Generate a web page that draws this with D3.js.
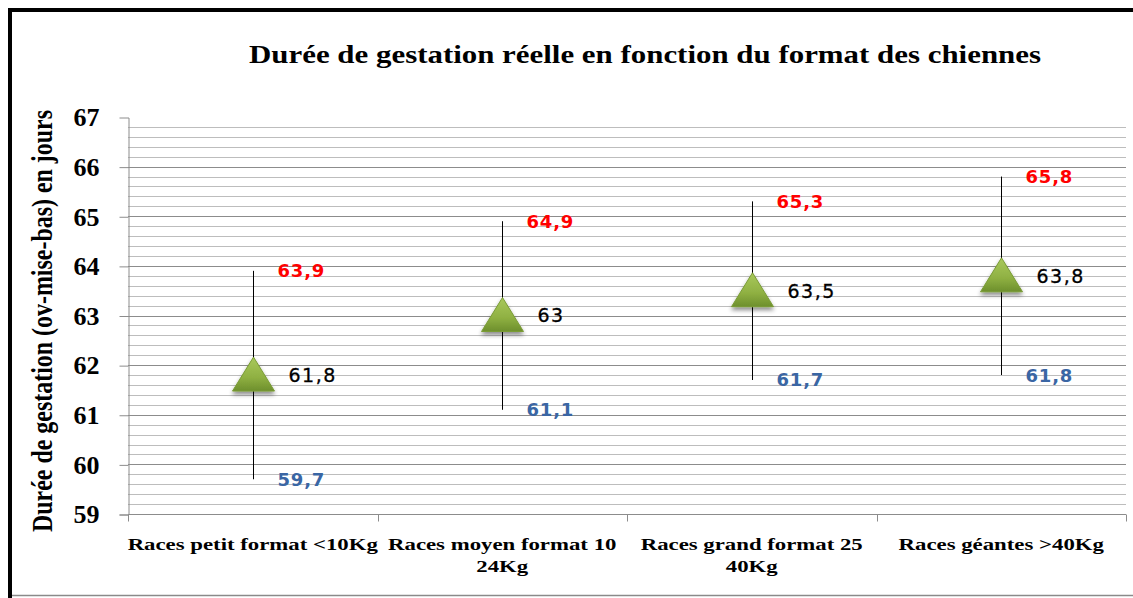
<!DOCTYPE html>
<html>
<head>
<meta charset="utf-8">
<script src="https://cdn.jsdelivr.net/npm/d3@7/dist/d3.min.js"></script>
<style>
body { margin: 0; background: #fff; }
</style>
</head>
<body>
<svg id="chart"></svg>
<script>
var categories = ["Races petit format <10Kg", "Races moyen format 10-24Kg", "Races grand format 25-40Kg", "Races géantes >40Kg"];
var moyenne = [61.8, 63, 63.5, 63.8];
var maxi = [63.9, 64.9, 65.3, 65.8];
var mini = [59.7, 61.1, 61.7, 61.8];
var yTicks = [59, 60, 61, 62, 63, 64, 65, 66, 67];
var titre = "Durée de gestation réelle en fonction du format des chiennes";
var titreY = "Durée de gestation (ov-mise-bas) en jours";

var width = 1133, height = 598;
var margin = {top: 117, left: 128, right: 7, bottom: 84};

var svg = d3.select("#chart")
    .attr("width", width)
    .attr("height", height);

var defs = svg.append("defs");
var grad = defs.append("linearGradient")
    .attr("id", "vert")
    .attr("x1", 0).attr("y1", 0).attr("x2", 0).attr("y2", 1);
grad.append("stop").attr("offset", "0%").attr("stop-color", "#a9c95c");
grad.append("stop").attr("offset", "60%").attr("stop-color", "#8fb042");
grad.append("stop").attr("offset", "100%").attr("stop-color", "#6d8f2c");
var ombre = defs.append("filter").attr("id", "ombre")
    .attr("x", "-50%").attr("y", "-50%").attr("width", "200%").attr("height", "200%");
ombre.append("feDropShadow")
    .attr("dx", 0).attr("dy", 3)
    .attr("stdDeviation", 2)
    .attr("flood-color", "#000")
    .attr("flood-opacity", 0.45);

var xScale = d3.scaleBand()
    .domain(categories)
    .range([margin.left, width - margin.right])
    .padding(0);

var yScale = d3.scaleLinear()
    .domain([59, 67])
    .range([height - margin.bottom, margin.top]);

// cadre
svg.append("rect").attr("x", 8).attr("y", 8).attr("width", 4).attr("height", height - 8).attr("fill", "#000");
svg.append("rect").attr("x", 8).attr("y", 8).attr("width", width - 8).attr("height", 4).attr("fill", "#000");
svg.append("line").attr("x1", 12).attr("x2", width).attr("y1", 595.5).attr("y2", 595.5)
    .attr("stroke", "#8a8a8a").attr("stroke-width", 1.5);

// quadrillage secondaire (pas de 0,2)
var mineurs = [];
for (var i = 1; i < 40; i++) {
    if (i % 5 !== 0) mineurs.push(59 + i * 0.2);
}
svg.append("g").selectAll("line").data(mineurs)
    .join("line")
    .attr("x1", margin.left).attr("x2", width - margin.right)
    .attr("y1", d => Math.round(yScale(d)) + 0.5)
    .attr("y2", d => Math.round(yScale(d)) + 0.5)
    .attr("stroke", "#bdbdbd");

// quadrillage principal
svg.append("g").selectAll("line").data(yTicks.filter(d => d > 59 && d < 67))
    .join("line")
    .attr("x1", margin.left).attr("x2", width - margin.right)
    .attr("y1", d => Math.round(yScale(d)) + 0.5)
    .attr("y2", d => Math.round(yScale(d)) + 0.5)
    .attr("stroke", "#8c8c8c");

// axe Y
var yAxis = svg.append("g")
    .attr("transform", "translate(" + (margin.left + 0.5) + ",0.5)")
    .call(d3.axisLeft(yScale).tickValues(yTicks).tickSize(9).tickPadding(20).tickFormat(d3.format("d")));
yAxis.select(".domain").attr("stroke", "#8c8c8c");
yAxis.selectAll(".tick line").attr("stroke", "#8c8c8c");
yAxis.selectAll(".tick text")
    .attr("font-family", "'Liberation Serif', serif")
    .attr("font-weight", "bold")
    .attr("font-size", 26)
    .attr("fill", "#000");
yAxis.selectAll(".tick").filter(d => d === 67).select("line").remove();

// axe X
var xAxis = svg.append("g")
    .attr("transform", "translate(0," + (Math.round(yScale(59)) + 0.5) + ")");
xAxis.append("line")
    .attr("x1", margin.left).attr("x2", width - margin.right)
    .attr("stroke", "#8c8c8c");
var bornes = categories.map(c => xScale(c)).concat([xScale.range()[1]]);
xAxis.selectAll(".sep").data(bornes)
    .join("line")
    .attr("class", "sep")
    .attr("x1", d => Math.round(d) + 0.5).attr("x2", d => Math.round(d) + 0.5)
    .attr("y1", 0).attr("y2", 7)
    .attr("stroke", "#8c8c8c");

function stretch(sel, k) {
    sel.each(function() {
        var w = this.getComputedTextLength();
        this.setAttribute("textLength", w * k);
        this.setAttribute("lengthAdjust", "spacingAndGlyphs");
    });
}

var catLabels = svg.append("g").selectAll("text").data(categories)
    .join("text")
    .attr("x", d => xScale(d) + xScale.bandwidth() / 2)
    .attr("y", 550)
    .attr("text-anchor", "middle")
    .attr("font-family", "'Liberation Serif', serif")
    .attr("font-weight", "bold")
    .attr("font-size", 17)
    .attr("fill", "#000");
catLabels.each(function(d) {
    var lignes = d.split("-");
    var t = d3.select(this);
    lignes.forEach(function(l, i) {
        t.append("tspan")
            .attr("x", xScale(d) + xScale.bandwidth() / 2)
            .attr("dy", i === 0 ? 0 : 22)
            .text(l);
    });
});
catLabels.selectAll("tspan").call(stretch, 1.34);

// barres min-max
var pts = categories.map(function(c, i) {
    return {cat: c, moy: moyenne[i], max: maxi[i], min: mini[i]};
});
var cx = d => Math.round(xScale(d.cat) + xScale.bandwidth() / 2) + 0.5;

svg.append("g").selectAll("line").data(pts)
    .join("line")
    .attr("x1", cx).attr("x2", cx)
    .attr("y1", d => yScale(d.min))
    .attr("y2", d => yScale(d.max))
    .attr("stroke", "#000")
    .attr("stroke-width", 1);

// triangles
svg.append("g").selectAll("path").data(pts)
    .join("path")
    .attr("d", function(d) {
        var x = cx(d), y = yScale(d.moy);
        return "M" + x + "," + (y - 18) + "L" + (x + 21) + "," + (y + 16) + "L" + (x - 21) + "," + (y + 16) + "Z";
    })
    .attr("fill", "url(#vert)")
    .attr("stroke", "#7a9c36")
    .attr("stroke-width", 1)
    .attr("stroke-linejoin", "round")
    .attr("filter", "url(#ombre)");

var fmt = v => String(v).replace(".", ",");

// étiquettes
svg.append("g").selectAll("text").data(pts)
    .join("text")
    .attr("x", d => cx(d) + 24)
    .attr("y", d => yScale(d.max))
    .attr("dy", "0.36em")
    .attr("font-family", "'DejaVu Sans', Verdana, sans-serif")
    .attr("font-weight", "bold")
    .attr("font-size", 18)
    .attr("letter-spacing", 0.8)
    .attr("fill", "#ff0000")
    .text(d => fmt(d.max));

svg.append("g").selectAll("text").data(pts)
    .join("text")
    .attr("x", d => cx(d) + 24)
    .attr("y", d => yScale(d.min))
    .attr("dy", "0.36em")
    .attr("font-family", "'DejaVu Sans', Verdana, sans-serif")
    .attr("font-weight", "bold")
    .attr("font-size", 18)
    .attr("letter-spacing", 0.8)
    .attr("fill", "#3a66a4")
    .text(d => fmt(d.min));

svg.append("g").selectAll("text").data(pts)
    .join("text")
    .attr("x", d => cx(d) + 35)
    .attr("y", d => yScale(d.moy))
    .attr("dy", "0.36em")
    .attr("font-family", "'DejaVu Sans', Verdana, sans-serif")
    .attr("font-size", 19)
    .attr("letter-spacing", 1.5)
    .attr("stroke", "#000")
    .attr("stroke-width", 0.3)
    .attr("fill", "#000")
    .text(d => fmt(d.moy));

// titres
svg.append("text")
    .attr("x", 645)
    .attr("y", 63)
    .attr("text-anchor", "middle")
    .attr("font-family", "'Liberation Serif', serif")
    .attr("font-weight", "bold")
    .attr("font-size", 25)
    .attr("textLength", 792)
    .attr("lengthAdjust", "spacingAndGlyphs")
    .text(titre);

svg.append("text")
    .attr("transform", "translate(52,321) rotate(-90)")
    .attr("text-anchor", "middle")
    .attr("font-family", "'Liberation Serif', serif")
    .attr("font-weight", "bold")
    .attr("font-size", 29)
    .attr("textLength", 422)
    .attr("lengthAdjust", "spacingAndGlyphs")
    .text(titreY);
</script>
</body>
</html>
